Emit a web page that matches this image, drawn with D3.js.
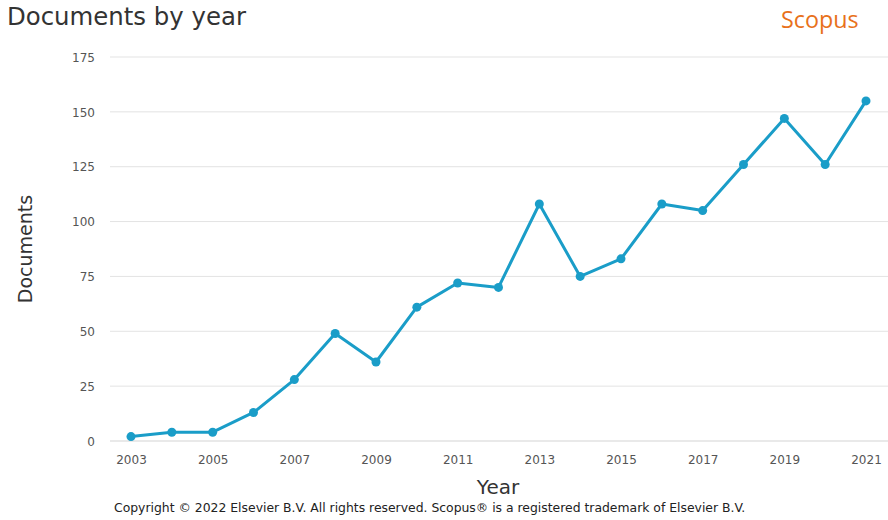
<!DOCTYPE html>
<html><head><meta charset="utf-8">
<script src="https://cdn.jsdelivr.net/npm/d3@7"></script>
<style>
html,body{margin:0;padding:0;background:#fff;}
svg{display:block;font-family:"DejaVu Sans",sans-serif;}
</style></head>
<body>
<svg id="chart" width="888" height="520"></svg>
<script>
const years = [2003,2004,2005,2006,2007,2008,2009,2010,2011,2012,2013,2014,2015,2016,2017,2018,2019,2020,2021];
const documents = [2,4,4,13,28,49,36,61,72,70,108,75,83,108,105,126,147,126,155];
const yTicks = [0,25,50,75,100,125,150,175];
const xTicks = [2003,2005,2007,2009,2011,2013,2015,2017,2019,2021];

const svg = d3.select("#chart");
const x = d3.scaleLinear().domain([2003,2021]).range([131,866]);
const y = d3.scaleLinear().domain([0,175]).range([441,57]);

// gridlines
svg.append("g").selectAll("line").data(yTicks.filter(d=>d>0)).join("line")
  .attr("x1",110).attr("x2",888).attr("y1",d=>y(d)).attr("y2",d=>y(d))
  .attr("stroke","#e3e3e3").attr("stroke-width",1);
svg.append("line").attr("x1",110).attr("x2",888).attr("y1",y(0)).attr("y2",y(0))
  .attr("stroke","#d4d4d4").attr("stroke-width",1.2);

// y axis
const yAxis = d3.axisLeft(y).tickValues(yTicks).tickSize(0).tickPadding(0);
const gy = svg.append("g").attr("transform","translate(95,0)").call(yAxis);
gy.select(".domain").remove();
gy.selectAll("text").attr("font-size",12).attr("fill","#555").attr("font-family","DejaVu Sans").attr("dy","0.35em");

// x axis
const xAxis = d3.axisBottom(x).tickValues(xTicks).tickFormat(d3.format("d")).tickSize(0).tickPadding(0);
const gx = svg.append("g").attr("transform","translate(0,455)").call(xAxis);
gx.select(".domain").remove();
gx.selectAll("text").attr("font-size",12).attr("fill","#555").attr("font-family","DejaVu Sans").attr("dy","0.71em");

// line
const line = d3.line().x((d,i)=>x(years[i])).y(d=>y(d));
svg.append("path").datum(documents).attr("d",line)
  .attr("fill","none").attr("stroke","#1a9dc8").attr("stroke-width",3).attr("stroke-linejoin","round");
svg.append("g").selectAll("circle").data(documents).join("circle")
  .attr("cx",(d,i)=>x(years[i])).attr("cy",d=>y(d)).attr("r",4.5).attr("fill","#1a9dc8");

// titles
svg.append("text").attr("x",7).attr("y",25).text("Documents by year")
  .attr("font-size",24.4).attr("fill","#333");
svg.append("text").attr("x",781).attr("y",28).text("Scopus")
  .attr("font-family","'Open Sans',sans-serif").attr("font-size",23.3).attr("fill","#e8711b");
svg.append("text").attr("x",498).attr("y",494).attr("text-anchor","middle").text("Year")
  .attr("font-size",20).attr("fill","#333");
svg.append("text").attr("transform","translate(32,249) rotate(-90)").attr("text-anchor","middle").text("Documents")
  .attr("font-size",19).attr("fill","#333");
svg.append("text").attr("x",114).attr("y",512).text("Copyright © 2022 Elsevier B.V. All rights reserved. Scopus® is a registered trademark of Elsevier B.V.")
  .attr("font-size",12.4).attr("fill","#222");
</script>
</body></html>
